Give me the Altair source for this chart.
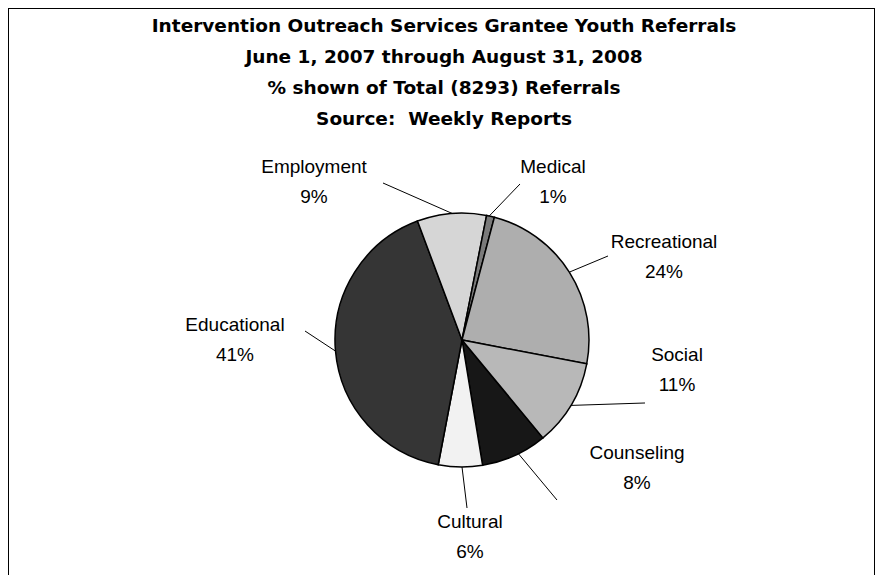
import math
import altair as alt
import pandas as pd

# ---- data ----
categories = ["Counseling", "Cultural", "Educational", "Employment", "Medical", "Recreational", "Social"]
referrals = [697, 464, 3425, 730, 83, 1982, 912]
fills = ["#171717", "#f2f2f2", "#353535", "#d6d6d6", "#7a7a7a", "#aeaeae", "#b8b8b8"]

title_lines = [
    "Intervention Outreach Services Grantee Youth Referrals",
    "June 1, 2007 through August 31, 2008",
    "% shown of Total (8293) Referrals",
    "Source:\u00a0 Weekly Reports",
]

# ---- layout ----
W, H = 867, 575
CX, CY, R = 454, 332, 127
START_DEG = 140.4
LH = 30  # label line height
# label block centre offsets from pie centre (px)
label_off = {
    "Employment": (-148, -158), "Medical": (91, -158), "Recreational": (202, -83),
    "Social": (215, 30), "Counseling": (175, 128), "Cultural": (8, 197),
    "Educational": (-227, 0),
}
# leader line: angle on pie edge (deg clockwise from top) and outer end offset
leader = {
    "Employment": (-4.5, (-79, -157)), "Medical": (12.4, (58, -156)),
    "Recreational": (57.7, (146, -84)), "Social": (121, (183, 63)),
    "Counseling": (153.6, (95, 160)), "Cultural": (180, (5, 168)),
    "Educational": (265, (-157, -9)),
}

total = sum(referrals)
df = pd.DataFrame({"category": categories, "count": referrals, "idx": range(len(categories))})
df["pct"] = [f"{round(v / total * 100)}%" for v in referrals]
df["label"] = df["category"] + "\n" + df["pct"]
df["lx"] = [CX + label_off[c][0] for c in categories]
df["ly"] = [CY + label_off[c][1] - LH / 2 for c in categories]
df["x1"] = [CX + R * math.sin(math.radians(leader[c][0])) for c in categories]
df["y1"] = [CY - R * math.cos(math.radians(leader[c][0])) for c in categories]
df["x2"] = [CX + leader[c][1][0] for c in categories]
df["y2"] = [CY + leader[c][1][1] for c in categories]

a0 = math.radians(START_DEG)
xs = alt.Scale(domain=[0, W], range=[0, W])
ys = alt.Scale(domain=[0, H], range=[0, H])

base = alt.Chart(df)

pie = base.mark_arc(radius=R, stroke="black", strokeWidth=1.5).encode(
    theta=alt.Theta("count:Q", stack=True, scale=alt.Scale(range=[a0, a0 + 2 * math.pi])),
    order=alt.Order("idx:Q"),
    color=alt.Color("category:N", scale=alt.Scale(domain=categories, range=fills), legend=None),
    x=alt.value(CX), y=alt.value(CY),
)

lines = base.mark_rule(color="black", strokeWidth=1).encode(
    x=alt.X("x1:Q", scale=xs, axis=None), y=alt.Y("y1:Q", scale=ys, axis=None),
    x2="x2:Q", y2="y2:Q",
)

labels = base.mark_text(
    font="Liberation Sans", fontSize=19, lineBreak="\n", lineHeight=LH,
    align="center", baseline="middle", color="black",
).encode(
    x=alt.X("lx:Q", scale=xs, axis=None), y=alt.Y("ly:Q", scale=ys, axis=None),
    text="label:N",
)

title_df = pd.DataFrame({"t": ["\n".join(title_lines)]})
title = alt.Chart(title_df).mark_text(
    font="DejaVu Sans", fontSize=18.5, fontWeight="bold", lineBreak="\n", lineHeight=31,
    align="center", baseline="middle", color="black",
).encode(text="t:N", x=alt.value(436), y=alt.value(18))

chart = alt.layer(pie, lines, labels, title).properties(
    width=W, height=H, padding=0
).configure_view(stroke="black", strokeWidth=2)

chart.save("out.html", embed_options={"renderer": "svg", "actions": False})
